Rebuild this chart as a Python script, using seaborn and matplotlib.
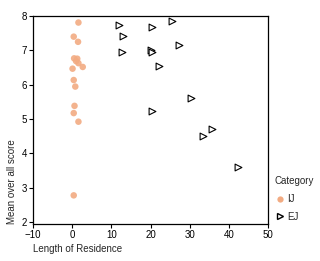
import matplotlib
matplotlib.use("Agg")
import matplotlib.pyplot as plt
import seaborn as sns
import pandas as pd
from matplotlib.lines import Line2D

ij_x = [1.6, 0.4, 1.5, 0.5, 1.3, 1.0, 1.6, 2.7, 0.1, 0.4, 0.8, 0.6, 0.4, 1.6, 0.4]
ij_y = [7.80, 7.39, 7.24, 6.76, 6.75, 6.68, 6.62, 6.51, 6.46, 6.13, 5.94, 5.38, 5.17, 4.92, 2.78]
ej_x = [12.0, 13.0, 12.7, 20.3, 20.0, 20.3, 25.4, 27.3, 22.2, 30.3, 20.4, 35.6, 33.5, 42.4]
ej_y = [7.72, 7.41, 6.93, 7.67, 7.00, 6.93, 7.85, 7.16, 6.53, 5.60, 5.23, 4.71, 4.50, 3.60]
categories = ["IJ", "EJ"]

df = pd.DataFrame({
    "Length of Residence": ij_x + ej_x,
    "Mean over all score": ij_y + ej_y,
    "Category": [categories[0]] * len(ij_x) + [categories[1]] * len(ej_x),
})

sns.set_style("white")
plt.rcParams["font.family"] = ["Liberation Sans", "DejaVu Sans"]
plt.rcParams["font.size"] = 7

fig = plt.figure(figsize=(3.2, 2.61), dpi=100)
ax = fig.add_axes([0.103, 0.142, 0.735, 0.798])

orange = "#f2ab82"
sns.scatterplot(data=df[df["Category"] == "IJ"], x="Length of Residence",
                y="Mean over all score", color=orange, marker="o", s=22,
                edgecolor="none", alpha=0.9, ax=ax, legend=False)
sns.scatterplot(data=df[df["Category"] == "EJ"], x="Length of Residence",
                y="Mean over all score", facecolor="white", marker=">", s=24,
                edgecolor="black", linewidth=0.8, ax=ax, legend=False)

ax.set_xlim(-10, 50)
ax.set_ylim(1.95, 8.0)
ax.set_xticks([-10, 0, 10, 20, 30, 40, 50])
ax.set_yticks([2, 3, 4, 5, 6, 7, 8])
for s in ax.spines.values():
    s.set_color("black")
    s.set_linewidth(0.9)
ax.tick_params(axis="both", direction="out", length=3, width=0.8,
               labelsize=7, colors="black", pad=1.5, bottom=True, left=True)
ax.set_xlabel("Length of Residence", fontsize=7, loc="left", labelpad=3)
ax.set_ylabel("Mean over all score", fontsize=7, loc="bottom", labelpad=3)

handles = [
    Line2D([], [], linestyle="none", marker="o", markersize=4.5,
           markerfacecolor=orange, markeredgecolor="none", label="IJ"),
    Line2D([], [], linestyle="none", marker=">", markersize=4.5,
           markerfacecolor="white", markeredgecolor="black", label="EJ"),
]
fig.legend(handles=handles, title="Category", loc="upper left",
           bbox_to_anchor=(0.845, 0.34), frameon=False, fontsize=7,
           title_fontsize=7, handletextpad=0.1, handlelength=1.2,
           labelspacing=0.8, alignment="left", borderaxespad=0)

fig.savefig("out.png", dpi=100)
